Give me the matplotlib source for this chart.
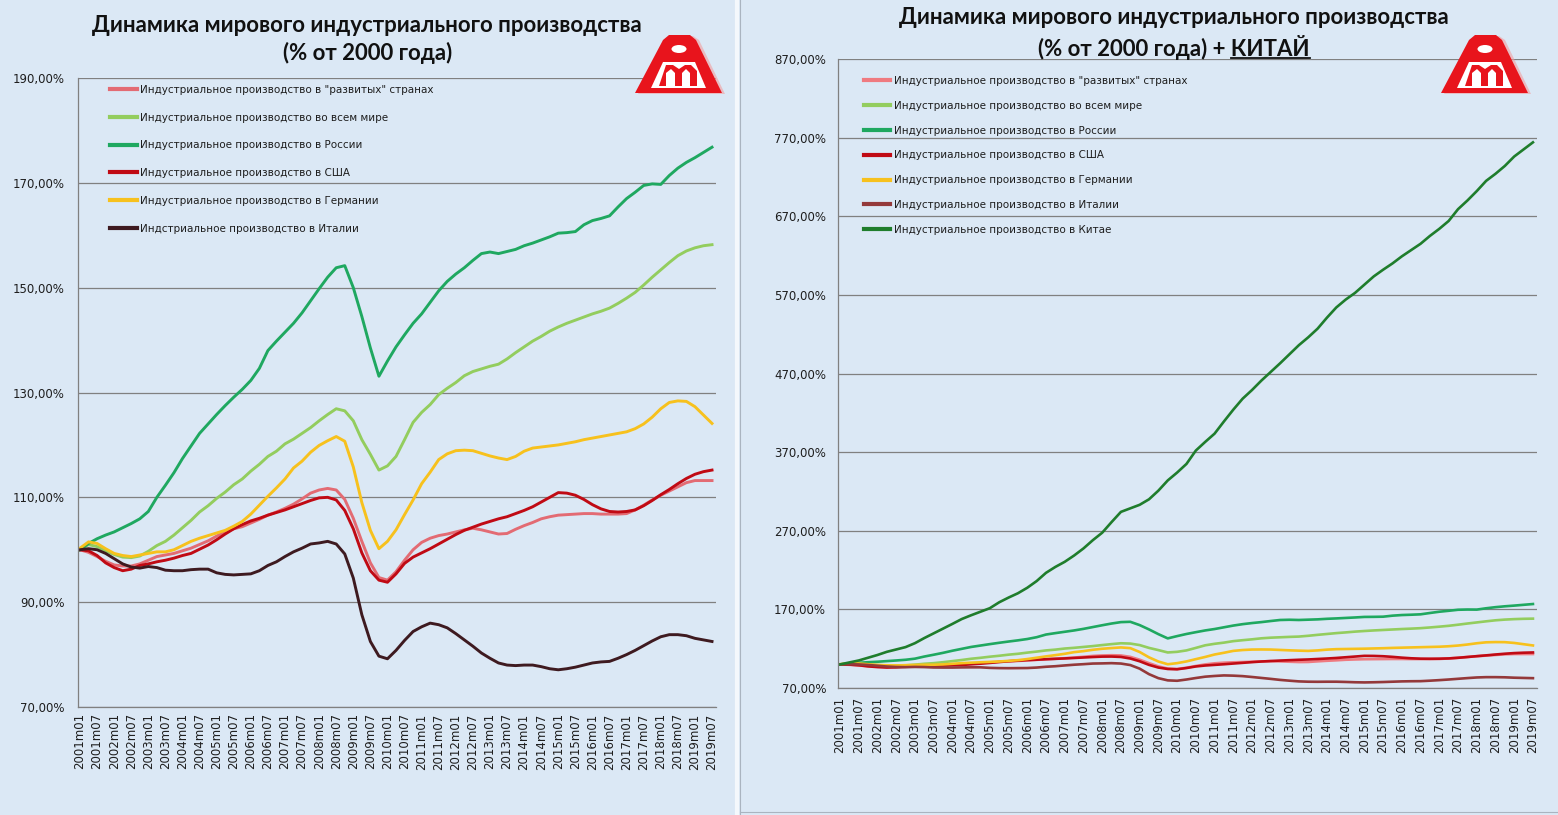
import matplotlib
matplotlib.use("Agg")
import matplotlib.pyplot as plt
from matplotlib.lines import Line2D
from matplotlib.patches import Polygon, Ellipse
from matplotlib.ticker import FuncFormatter

# ---------------- data (quarterly readings, % of 2000 level) ----------------
months = list(range(0, 223, 3))          # month index from 2001m01, step 3

developed = [100, 99.5, 98.7, 97.8, 97.1, 96.9, 96.9, 97.3, 98.0, 98.7, 99.0, 99.3, 99.8,
             100.3, 101.0, 101.7, 102.6, 103.4, 104.0, 104.4, 105.1, 105.8, 106.6, 107.2,
             107.9, 108.7, 109.7, 110.8, 111.4, 111.7, 111.4, 109.6, 106.0, 101.6, 97.5,
             94.7, 94.2, 95.8, 98.0, 100.0, 101.4, 102.2, 102.7, 103.0, 103.4, 103.8, 104.1,
             103.8, 103.4, 103.0, 103.1, 103.9, 104.6, 105.2, 105.9, 106.3, 106.6, 106.7,
             106.8, 106.9, 106.9, 106.8, 106.8, 106.8, 106.9, 107.6, 108.5, 109.5, 110.4,
             111.2, 112.0, 112.8, 113.2, 113.2, 113.2]
world = [100, 101.0, 100.6, 99.8, 99.1, 98.6, 98.5, 98.8, 99.7, 100.8, 101.6, 102.8, 104.2,
         105.6, 107.2, 108.4, 109.8, 111.0, 112.4, 113.5, 115.0, 116.3, 117.8, 118.8, 120.2,
         121.1, 122.2, 123.3, 124.6, 125.8, 126.9, 126.5, 124.6, 121.0, 118.2, 115.2, 116.0,
         117.8, 121.0, 124.3, 126.2, 127.7, 129.6, 130.8, 131.9, 133.2, 134.0, 134.5, 135.0,
         135.4, 136.4, 137.6, 138.7, 139.8, 140.7, 141.7, 142.5, 143.2, 143.8, 144.4, 145.0,
         145.5, 146.1, 147.0, 148.0, 149.1, 150.5, 152.0, 153.4, 154.8, 156.1, 157.0, 157.6,
         158.0, 158.2]
russia = [100, 101.2, 102.1, 102.8, 103.4, 104.2, 105.0, 105.9, 107.3, 110.0, 112.3, 114.7,
          117.4, 119.8, 122.2, 124.0, 125.8, 127.5, 129.1, 130.6, 132.3, 134.6, 138.0, 139.8,
          141.5, 143.2, 145.2, 147.5, 149.8, 152.0, 153.8, 154.2, 150.0, 144.5, 138.5, 133.1,
          136.0, 138.7, 141.0, 143.2, 145.0, 147.2, 149.4, 151.2, 152.6, 153.8, 155.2, 156.5,
          156.8, 156.5, 156.9, 157.3, 158.0, 158.5, 159.1, 159.7, 160.4, 160.5, 160.7, 162.0,
          162.8, 163.2, 163.7, 165.4, 167.0, 168.2, 169.5, 169.8, 169.7, 171.4, 172.8, 173.9,
          174.8, 175.8, 176.8]
usa = [100, 99.8, 98.9, 97.5, 96.6, 96.0, 96.3, 97.0, 97.3, 97.7, 98.0, 98.4, 98.9, 99.3,
       100.1, 100.9, 101.9, 103.0, 104.0, 104.8, 105.5, 106.0, 106.6, 107.1, 107.6, 108.2,
       108.8, 109.4, 109.9, 110.0, 109.5, 107.5, 104.0, 99.4, 96.0, 94.2, 93.8, 95.4, 97.4,
       98.6, 99.4, 100.2, 101.1, 102.0, 102.9, 103.7, 104.3, 104.9, 105.4, 105.9, 106.3,
       106.9, 107.5, 108.2, 109.1, 110.0, 110.9, 110.8, 110.4, 109.6, 108.6, 107.8, 107.3,
       107.2, 107.3, 107.6, 108.4, 109.4, 110.5, 111.5, 112.6, 113.6, 114.4, 114.9, 115.2]
germany = [100.3, 101.5, 101.2, 100.2, 99.3, 98.9, 98.7, 99.0, 99.3, 99.6, 99.6, 100.0,
           100.8, 101.6, 102.2, 102.7, 103.2, 103.7, 104.5, 105.4, 106.8, 108.5, 110.2, 111.8,
           113.5, 115.6, 116.9, 118.6, 119.9, 120.8, 121.6, 120.7, 115.8, 109.0, 103.7, 100.2,
           101.6, 103.8, 106.7, 109.5, 112.6, 114.8, 117.2, 118.3, 118.9, 119.0, 118.9, 118.4,
           117.9, 117.5, 117.2, 117.8, 118.8, 119.4, 119.6, 119.8, 120.0, 120.3, 120.6, 121.0,
           121.3, 121.6, 121.9, 122.2, 122.5, 123.1, 124.0, 125.3, 126.9, 128.1, 128.4, 128.3,
           127.3, 125.7, 124.1]
italy = [100, 100.2, 100.0, 99.3, 98.3, 97.3, 96.7, 96.5, 96.8, 96.6, 96.1, 96.0, 96.0, 96.2,
         96.3, 96.3, 95.6, 95.3, 95.2, 95.3, 95.4, 96.0, 97.0, 97.7, 98.7, 99.6, 100.3, 101.1,
         101.3, 101.6, 101.1, 99.2, 94.6, 87.6, 82.5, 79.7, 79.2, 80.8, 82.7, 84.4, 85.3, 86.0,
         85.7, 85.1, 84.0, 82.8, 81.6, 80.3, 79.3, 78.4, 78.0, 77.9, 78.0, 78.0, 77.7, 77.3,
         77.1, 77.3, 77.6, 78.0, 78.4, 78.6, 78.7, 79.3, 80.0, 80.8, 81.7, 82.6, 83.4, 83.8,
         83.8, 83.6, 83.1, 82.8, 82.5]
china = [100, 102.5, 105, 108.5, 112, 116, 119, 122, 127, 133.5, 139.5, 145.5, 151.5, 157.7,
         162.5, 167, 171.5, 179, 185, 190.5, 197.5, 206, 216.5, 224, 230.5, 238.5, 247.5, 258,
         267.5, 281, 294, 298.5, 303, 310, 321, 334, 344, 355, 372, 383, 393.5, 409, 424, 438,
         449, 461, 472, 483, 494.5, 506, 516, 527, 541, 554, 564, 572.5, 583, 593.5, 602, 610,
         619, 627, 635, 645, 654, 664, 679, 690, 702, 715, 724, 734, 746, 755, 764]

tick_months = list(range(0, 223, 6))
tick_labels = [f"{2001 + m // 12}m{m % 12 + 1:02d}" for m in tick_months]

labels_left = ['Индустриальное производство в "развитых" странах',
               'Индустриальное производство во всем мире',
               'Индустриальное производство в России',
               'Индустриальное производство в США',
               'Индустриальное производство в Германии',
               'Индстриальное производство в Италии']
labels_right = ['Индустриальное производство в "развитых" странах',
                'Индустриальное производство во всем мире',
                'Индустриальное производство в России',
                'Индустриальное производство в США',
                'Индустриальное производство в Германии',
                'Индустриальное производство в Италии',
                'Индустриальное производство в Китае']

title_line1 = "Динамика мирового индустриального производства"
title_line2 = "(% от 2000 года)"
title_extra = "КИТАЙ"

# ---------------- styling ----------------
W, H = 1558, 815
BG = '#dbe8f5'
GRID = '#808080'
TXT = '#1e1e1e'
c_dev = '#e36b73'
c_world = '#93cd5e'
c_rus = '#1fa860'
c_usa = '#c00a14'
c_ger = '#f7c11d'
c_ita_l = '#3e1a20'
c_ita_r = '#94393a'
c_chi = '#1f7d2c'

plt.rcParams['font.family'] = ['DejaVu Sans']

fig = plt.figure(figsize=(W / 100, H / 100), dpi=100)
fig.patch.set_facecolor(BG)


def fx(px):
    return px / W


def fy(py):
    return 1 - py / H


def style_axes(ax, ymin, ymax, ystep, ypad, xpad):
    ax.set_facecolor('none')
    for s in ('top', 'right'):
        ax.spines[s].set_visible(False)
    for s in ('left', 'bottom'):
        ax.spines[s].set_color(GRID)
        ax.spines[s].set_linewidth(0.9)
    ax.set_ylim(ymin, ymax)
    ax.set_yticks(list(range(ymin, ymax + 1, ystep)))
    ax.yaxis.set_major_formatter(FuncFormatter(lambda v, p: f"{v:.2f}".replace('.', ',') + '%'))
    ax.grid(axis='y', color=GRID, lw=0.9)
    ax.set_axisbelow(True)
    ax.set_xlim(-0.7, 223.4)
    ax.set_xticks(tick_months)
    ax.set_xticklabels(tick_labels, rotation=90, fontsize=8.5, color=TXT)
    ax.tick_params(axis='y', length=0, pad=ypad, labelsize=8.5, labelcolor=TXT)
    ax.tick_params(axis='x', length=0, pad=xpad)


# ---------------- left panel ----------------
axL = fig.add_axes([fx(78), fy(707), fx(716) - fx(78), fy(78) - fy(707)])
style_axes(axL, 70, 190, 20, 9.5, 4.5)
lw = 2.1
axL.plot(months, developed, color=c_dev, lw=lw, label=labels_left[0])
axL.plot(months, world, color=c_world, lw=lw, label=labels_left[1])
axL.plot(months, russia, color=c_rus, lw=lw, label=labels_left[2])
axL.plot(months, usa, color=c_usa, lw=lw, label=labels_left[3])
axL.plot(months, germany, color=c_ger, lw=lw, label=labels_left[4])
axL.plot(months, italy, color=c_ita_l, lw=lw, label=labels_left[5])
legL = axL.legend(loc='upper left', bbox_to_anchor=(fx(110), fy(85)), bbox_transform=fig.transFigure,
                  frameon=False, fontsize=7.5, handlelength=2.6, handletextpad=0.3,
                  labelspacing=1.7, borderpad=0, borderaxespad=0)
for t in legL.get_texts():
    t.set_color(TXT)
for h in legL.get_lines():
    h.set_linewidth(3)

# ---------------- right panel ----------------
axR = fig.add_axes([fx(838), fy(688), fx(1537) - fx(838), fy(59) - fy(688)])
style_axes(axR, 70, 870, 100, 8.6, 6.5)
axR.set_xlim(-0.64, 223.3)
lw2 = 1.9
axR.plot(months, developed, color='#ef7a80', lw=lw2, label=labels_right[0])
axR.plot(months, world, color=c_world, lw=lw2, label=labels_right[1])
axR.plot(months, russia, color=c_rus, lw=lw2, label=labels_right[2])
axR.plot(months, usa, color=c_usa, lw=lw2, label=labels_right[3])
axR.plot(months, germany, color=c_ger, lw=lw2, label=labels_right[4])
axR.plot(months, italy, color=c_ita_r, lw=lw2, label=labels_right[5])
axR.plot(months, china, color=c_chi, lw=lw2, label=labels_right[6])
legR = axR.legend(loc='upper left', bbox_to_anchor=(fx(864), fy(76)), bbox_transform=fig.transFigure,
                  frameon=False, fontsize=7.5, handlelength=2.5, handletextpad=0.35,
                  labelspacing=1.42, borderpad=0, borderaxespad=0)
for t in legR.get_texts():
    t.set_color(TXT)
for h in legR.get_lines():
    h.set_linewidth(3)

# ---------------- titles ----------------
tfont = dict(family=['Lato', 'DejaVu Sans'], fontsize=16, fontweight='bold', color='#111111',
             ha='center', va='center')
fig.text(fx(367), fy(25), title_line1, **tfont)
fig.text(fx(368), fy(53), title_line2, **tfont)
fig.text(fx(1174), fy(18), title_line1, **tfont)
t2 = fig.text(fx(1174), fy(47), f"{title_line2} + {title_extra}", **tfont)

fig.canvas.draw()
r = fig.canvas.get_renderer()
bb = t2.get_window_extent(r)
tmp = fig.text(0, 0, title_extra, **tfont)
wk = tmp.get_window_extent(r).width
tmp.remove()
uy = (bb.y0 + 2) / H
fig.add_artist(Line2D([(bb.x1 - wk) / W, bb.x1 / W], [uy, uy], color='#111111', lw=1.3))

# ---------------- separator ----------------
fig.add_artist(Line2D([fx(737), fx(737)], [0, 1], color='#f4f8fc', lw=3))
fig.add_artist(Line2D([fx(740), fx(740)], [0, 1], color='#aab4c0', lw=0.8))
fig.add_artist(Line2D([fx(740), 1], [fy(812), fy(812)], color='#aab4c0', lw=0.8))


# ---------------- logos ----------------
def draw_logo(x0, y0, w=87, h=58):
    def P(dx, dy):
        return (fx(x0 + dx * w / 87), fy(y0 + dy * h / 58))
    red = '#e8141c'
    shadow = Polygon([P(3, 59), P(90, 59), P(64, 5), P(58, 1), P(37, 1), P(31, 5)],
                     closed=True, transform=fig.transFigure, color='#f2a0a0', alpha=0.6, lw=0)
    outer = Polygon([P(0, 58), P(87, 58), P(61, 5), P(55, 0), P(34, 0), P(28, 5)],
                    closed=True, transform=fig.transFigure, color=red, lw=0)
    hole = Ellipse(P(44, 14), fx(x0 + 15) - fx(x0), fy(y0) - fy(y0 + 8),
                   transform=fig.transFigure, color='white', lw=0)
    lower = Polygon([P(16, 53), P(71, 53), P(60, 27), P(28, 27)],
                    closed=True, transform=fig.transFigure, color='white', lw=0)
    m_shape = Polygon([P(24, 51), P(31, 51), P(31, 38), P(36, 34), P(40, 38), P(40, 51),
                       P(47, 51), P(47, 38), P(51, 34), P(55, 38), P(55, 51), P(62, 51),
                       P(62, 36), P(56, 30), P(50, 30), P(44, 34), P(38, 30), P(31, 30)],
                      closed=True, transform=fig.transFigure, color=red, lw=0)
    for a in (shadow, outer, hole, lower, m_shape):
        fig.add_artist(a)


draw_logo(635, 35)
draw_logo(1441, 35)

fig.savefig("out.png", dpi=100, facecolor=BG)
